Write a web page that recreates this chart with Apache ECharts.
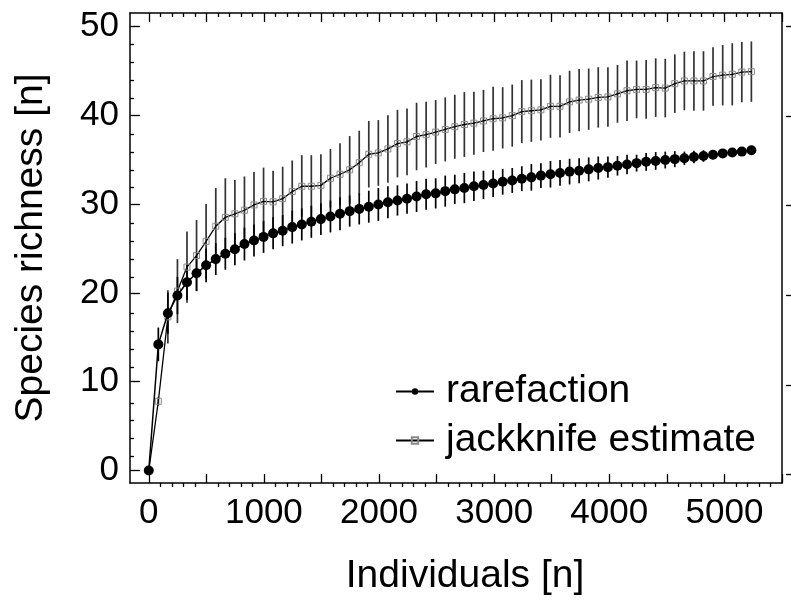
<!DOCTYPE html>
<html><head><meta charset="utf-8">
<script src="https://cdn.jsdelivr.net/npm/echarts@6/dist/echarts.min.js"></script>
<style>html,body{margin:0;padding:0;background:#fff}#c{width:791px;height:601px}</style>
</head><body><div id="c"></div>
<script>
// ---- data ----
const individuals = [0, 83, 166, 249, 332, 415, 498, 582, 665, 748, 831, 914, 997, 1080, 1163, 1246,
  1329, 1412, 1495, 1578, 1661, 1745, 1828, 1911, 1994, 2077, 2160, 2243, 2326, 2409, 2492, 2575,
  2658, 2741, 2824, 2907, 2991, 3074, 3157, 3240, 3323, 3406, 3489, 3572, 3655, 3738, 3821, 3904,
  3988, 4071, 4154, 4237, 4320, 4403, 4486, 4569, 4652, 4735, 4818, 4901, 4985, 5068, 5151, 5234];
const rarefaction = [0, 14.2, 17.7, 19.7, 21.2, 22.2, 23.1, 23.8, 24.4, 24.9, 25.5, 25.9, 26.3, 26.7, 27.0, 27.4,
  27.7, 28.0, 28.3, 28.6, 28.9, 29.2, 29.45, 29.7, 29.95, 30.2, 30.4, 30.6, 30.85, 31.1, 31.2, 31.45,
  31.65, 31.8, 32.0, 32.15, 32.3, 32.5, 32.65, 32.85, 33.0, 33.2, 33.35, 33.5, 33.65, 33.75, 33.9, 34.05,
  34.15, 34.3, 34.45, 34.6, 34.75, 34.85, 34.95, 35.05, 35.15, 35.3, 35.4, 35.55, 35.7, 35.8, 35.9, 36.05];
const rarefactionErr = [0, 1.9, 2.3, 2.1, 2.0, 2.0, 1.9, 1.8, 1.8, 1.8, 1.85, 1.8, 1.8, 1.8, 1.75, 1.85,
  1.8, 1.8, 1.8, 1.8, 1.85, 1.75, 1.75, 1.8, 1.85, 1.8, 1.7, 1.7, 1.75, 1.75, 1.7, 1.75,
  1.65, 1.7, 1.65, 1.6, 1.5, 1.45, 1.4, 1.4, 1.5, 1.4, 1.5, 1.45, 1.45, 1.4, 1.35, 1.3,
  1.2, 1.1, 1.1, 0.95, 1.0, 1.0, 0.95, 0.9, 0.75, 0.7, 0.65, 0.5, 0.4, 0.3, 0.2, 0];
const jackknife = [0, 7.8, 17.3, 20.2, 22.9, 24.2, 25.8, 27.5, 28.5, 28.9, 29.3, 29.9, 30.3, 30.25, 30.6, 31.4,
  32.0, 32.0, 32.1, 32.9, 33.35, 33.85, 34.65, 35.6, 35.75, 36.2, 36.8, 37.0, 37.6, 37.8, 38.1, 38.4,
  38.7, 38.95, 39.1, 39.35, 39.6, 39.7, 39.95, 40.4, 40.5, 40.6, 41.0, 41.0, 41.5, 41.7, 41.8, 42.0,
  42.05, 42.4, 42.75, 42.9, 42.9, 43.1, 43.05, 43.55, 43.85, 43.85, 43.85, 44.35, 44.5, 44.6, 44.85, 44.9];
const jackknifeErr = [0, 0.5, 3.0, 3.6, 4.0, 4.0, 4.2, 4.3, 4.4, 3.8, 3.8, 3.7, 3.8, 3.5, 3.6, 3.5,
  3.5, 3.5, 3.5, 3.3, 3.5, 3.8, 3.6, 3.75, 3.7, 3.8, 3.8, 3.75, 3.8, 3.7, 3.6, 3.6,
  3.6, 3.65, 3.55, 3.5, 3.6, 3.45, 3.5, 3.55, 3.5, 3.45, 3.55, 3.5, 3.5, 3.5, 3.45, 3.4,
  3.35, 3.25, 3.4, 3.25, 3.3, 3.3, 3.3, 3.3, 3.3, 3.35, 3.35, 3.3, 3.4, 3.5, 3.4, 3.4];
const seriesNames = ['rarefaction', 'jackknife estimate'];
const xTickLabels = [0, 1000, 2000, 3000, 4000, 5000];
const xMajorTicks = [0, 500, 1000, 1500, 2000, 2500, 3000, 3500, 4000, 4500, 5000, 5500];
const xMinorTicks = [100, 200, 300, 400, 600, 700, 800, 900, 1100, 1200, 1300, 1400, 1600, 1700, 1800, 1900,
  2100, 2200, 2300, 2400, 2600, 2700, 2800, 2900, 3100, 3200, 3300, 3400, 3600, 3700, 3800, 3900,
  4100, 4200, 4300, 4400, 4600, 4700, 4800, 4900, 5100, 5200, 5300, 5400];
const yTickLabels = [0, 10, 20, 30, 40, 50];
const yMinorTicks = [2, 4, 6, 8, 12, 14, 16, 18, 22, 24, 26, 28, 32, 34, 36, 38, 42, 44, 46, 48];

// ---- chart ----
const FONT = 'Liberation Sans, Arial, sans-serif';
const X_MIN = -163, X_MAX = 5500, Y_MIN = -1.4, Y_MAX = 51.5;
const chart = echarts.init(document.getElementById('c'), null, {renderer: 'canvas'});
const GRID = {left: 130, right: 9, top: 13, bottom: 114, containLabel: false};
const TICK_STYLE = {color: '#000', width: 1.3};
const AXIS_LINE = {show: true, onZero: false, lineStyle: {color: '#000', width: 1.5}};
const NO_LINE = {show: false, onZero: false};

function xAx(grid, pos, ticks, len, opts) {
  return Object.assign({
    type: 'value', gridIndex: grid, position: pos, min: X_MIN, max: X_MAX,
    axisLine: NO_LINE, splitLine: {show: false},
    axisTick: {show: true, inside: true, length: len, customValues: ticks, lineStyle: TICK_STYLE},
    axisLabel: {show: false, customValues: ticks}
  }, opts || {});
}
function yAx(grid, pos, ticks, len, opts) {
  return Object.assign({
    type: 'value', gridIndex: grid, position: pos, min: Y_MIN, max: Y_MAX,
    axisLine: NO_LINE, splitLine: {show: false},
    axisTick: {show: true, inside: true, length: len, customValues: ticks, lineStyle: TICK_STYLE},
    axisLabel: {show: false, customValues: ticks}
  }, opts || {});
}

const errItems = (ys, es) => individuals.map((x, i) => [x, ys[i] - es[i], ys[i] + es[i]]);
function errRender(color) {
  return function (params, api) {
    const p1 = api.coord([api.value(0), api.value(1)]);
    const p2 = api.coord([api.value(0), api.value(2)]);
    return {type: 'line', shape: {x1: p1[0], y1: p1[1], x2: p2[0], y2: p2[1]},
      style: {stroke: color, lineWidth: 1.7}};
  };
}

const option = {
  animation: false,
  backgroundColor: '#fff',
  textStyle: {fontFamily: FONT, color: '#000'},
  grid: [Object.assign({}, GRID), Object.assign({}, GRID)],
  xAxis: [
    xAx(0, 'bottom', xMajorTicks, 9, {
      axisLine: AXIS_LINE,
      axisLabel: {show: true, customValues: xTickLabels, fontSize: 35, color: '#000', fontFamily: FONT,
        margin: 13, formatter: v => String(v)},
      name: 'Individuals [n]', nameLocation: 'middle', nameGap: 74,
      nameTextStyle: {fontSize: 39, color: '#000', fontFamily: FONT, padding: [0, 0, 0, 18]}
    }),
    xAx(0, 'top', xMajorTicks, 9, {axisLine: AXIS_LINE}),
    xAx(1, 'bottom', xMinorTicks, 4),
    xAx(1, 'top', xMinorTicks, 4)
  ],
  yAxis: [
    yAx(0, 'left', yTickLabels, 10, {
      axisLine: AXIS_LINE,
      axisLabel: {show: true, customValues: yTickLabels, fontSize: 35, color: '#000', fontFamily: FONT,
        margin: 11, formatter: v => String(v)},
      name: 'Species richness [n]', nameLocation: 'middle', nameGap: 79, nameRotate: 90,
      nameTextStyle: {fontSize: 39, color: '#000', fontFamily: FONT}
    }),
    yAx(0, 'right', [], 0, {axisLine: AXIS_LINE, axisTick: {show: false}}),
    yAx(1, 'left', yMinorTicks, 4),
    yAx(1, 'right', yTickLabels, 5, {offset: 4,
      axisTick: {show: true, inside: false, length: 5, customValues: yTickLabels, lineStyle: TICK_STYLE}})
  ],
  legend: {
    orient: 'vertical', left: 390, top: 367, itemWidth: 38, itemHeight: 8, itemGap: 10,
    data: seriesNames,
    textStyle: {fontSize: 39, color: '#000', fontFamily: FONT, padding: [0, 0, 0, 7]}
  },
  series: [
    {type: 'custom', name: 'jkErr', xAxisIndex: 0, yAxisIndex: 0, renderItem: errRender('#333'),
      data: errItems(jackknife, jackknifeErr), z: 1, silent: true},
    {type: 'custom', name: 'rfErr', xAxisIndex: 0, yAxisIndex: 0, renderItem: errRender('#000'),
      data: errItems(rarefaction, rarefactionErr), z: 2, silent: true},
    {type: 'line', name: seriesNames[1], xAxisIndex: 0, yAxisIndex: 0, z: 3,
      data: individuals.map((x, i) => [x, jackknife[i]]),
      symbol: 'rect', symbolSize: 6, showAllSymbol: true,
      lineStyle: {color: '#000', width: 1.3},
      itemStyle: {color: 'rgba(255,255,255,0)', borderColor: '#888', borderWidth: 1}},
    {type: 'line', name: seriesNames[0], xAxisIndex: 0, yAxisIndex: 0, z: 4,
      data: individuals.map((x, i) => [x, rarefaction[i]]),
      symbol: 'circle', symbolSize: 10, showAllSymbol: true,
      lineStyle: {color: '#000', width: 1.5},
      itemStyle: {color: '#000'}}
  ]
};
chart.setOption(option);
</script></body></html>
